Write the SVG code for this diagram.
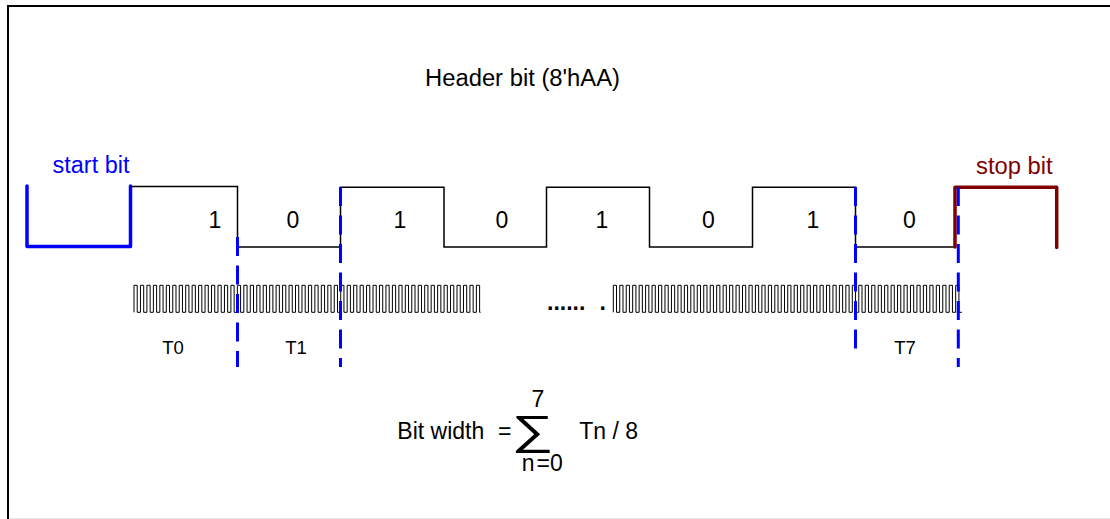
<svg xmlns="http://www.w3.org/2000/svg" width="1110" height="519" viewBox="0 0 1110 519">
<style>
text{font-family:"Liberation Sans",Arial,sans-serif;fill:#000}
.big{font-size:23px}
.mid{font-size:18.5px}
.wave{fill:none;stroke:#000;stroke-width:1.5}
.clk{fill:none;stroke:#000;stroke-width:1}
.dash{fill:none;stroke:#0000ff;stroke-width:3;stroke-dasharray:19 9.5}
</style>
<rect width="1110" height="519" fill="#fff"/>
<g id="frame">
<path d="M8,519 V6 H1110" fill="none" stroke="#000" stroke-width="2"/>
<line x1="9" y1="518.5" x2="1110" y2="518.5" stroke="#e8e8e8" stroke-width="1"/>
</g>
<g id="title"><text class="big" x="522.5" y="86" text-anchor="middle" textLength="195" lengthAdjust="spacingAndGlyphs">Header bit (8'hAA)</text></g>
<g id="start-bit">
<path d="M27,186 V246.5 H130.5 V186" fill="none" stroke="#0000ff" stroke-width="3.5" stroke-linecap="round" stroke-linejoin="round"/>
<text class="big" x="52.5" y="173" fill="#0000ff" style="fill:#0000ff" textLength="77" lengthAdjust="spacingAndGlyphs">start bit</text>
</g>
<g id="data-wave">
<path class="wave" d="M130.5,186.5 H237.5 V247 H340.5 V187.3 H444 V247 H546.5 V187.3 H649.5 V247 H752.5 V187.3 H855.5 V247 H955"/>
<text class="big" x="215" y="228" text-anchor="middle">1</text>
<text class="big" x="293" y="228" text-anchor="middle">0</text>
<text class="big" x="400" y="228" text-anchor="middle">1</text>
<text class="big" x="502" y="228" text-anchor="middle">0</text>
<text class="big" x="602" y="228" text-anchor="middle">1</text>
<text class="big" x="708.5" y="228" text-anchor="middle">0</text>
<text class="big" x="813" y="228" text-anchor="middle">1</text>
<text class="big" x="909.5" y="228" text-anchor="middle">0</text>
</g>
<g id="stop-bit">
<path d="M955,247 V187.3 H1056.7 V247.5" fill="none" stroke="#800000" stroke-width="3.5" stroke-linecap="round" stroke-linejoin="round"/>
<text class="big" x="976" y="174" style="fill:#800000" textLength="76.7" lengthAdjust="spacingAndGlyphs">stop bit</text>
</g>
<g id="clock">
<path class="clk" d="M134,312.3
v-27h3.23v27h3.23v-27h3.23v27h3.23v-27h3.23v27h3.23v-27h3.23v27h3.23v-27h3.23v27h3.23v-27h3.23v27h3.23
v-27h3.23v27h3.23v-27h3.23v27h3.23v-27h3.23v27h3.23v-27h3.23v27h3.23v-27h3.23v27h3.23v-27h3.23v27h3.23
v-27h3.23v27h3.23v-27h3.23v27h3.23v-27h3.23v27h3.23v-27h3.23v27h3.23v-27h3.23v27h3.23v-27h3.23v27h3.23
v-27h3.23v27h3.23v-27h3.23v27h3.23v-27h3.23v27h3.23v-27h3.23v27h3.23v-27h3.23v27h3.23v-27h3.23v27h3.23
v-27h3.23v27h3.23v-27h3.23v27h3.23v-27h3.23v27h3.23v-27h3.23v27h3.23v-27h3.23v27h3.23v-27h3.23v27h3.23
v-27h3.23v27h3.23v-27h3.23v27h3.23v-27h3.23v27h3.23v-27h3.23v27h3.23v-27h3.23v27h3.23v-27h3.23v27h3.23
v-27h3.23v27h3.23v-27h3.23v27h3.23v-27h3.23v27h3.23v-27h3.23v27h3.23v-27h3.23v27h3.23v-27h3.23v27h3.23
v-27h3.23v27h3.23v-27h3.23v27h3.23v-27h3.23v27h3.23v-27h3.23v27h3.23v-27h3.23v27h3.23v-27h3.23v27h3.23
v-27h3.23v27h3.23v-27h3.23v27h3.23v-27h3.23v27h3.23v-27h3.23v27h3.23v-27h3.23v27h3.23v-27h3.23v27h1"/>
<path class="clk" d="M613.3,312.3
v-27h3.23v27h3.23v-27h3.23v27h3.23v-27h3.23v27h3.23v-27h3.23v27h3.23v-27h3.23v27h3.23v-27h3.23v27h3.23
v-27h3.23v27h3.23v-27h3.23v27h3.23v-27h3.23v27h3.23v-27h3.23v27h3.23v-27h3.23v27h3.23v-27h3.23v27h3.23
v-27h3.23v27h3.23v-27h3.23v27h3.23v-27h3.23v27h3.23v-27h3.23v27h3.23v-27h3.23v27h3.23v-27h3.23v27h3.23
v-27h3.23v27h3.23v-27h3.23v27h3.23v-27h3.23v27h3.23v-27h3.23v27h3.23v-27h3.23v27h3.23v-27h3.23v27h3.23
v-27h3.23v27h3.23v-27h3.23v27h3.23v-27h3.23v27h3.23v-27h3.23v27h3.23v-27h3.23v27h3.23v-27h3.23v27h3.23
v-27h3.23v27h3.23v-27h3.23v27h3.23v-27h3.23v27h3.23v-27h3.23v27h3.23v-27h3.23v27h3.23v-27h3.23v27h3.23
v-27h3.23v27h3.23v-27h3.23v27h3.23v-27h3.23v27h3.23v-27h3.23v27h3.23v-27h3.23v27h3.23v-27h3.23v27h3.23
v-27h3.23v27h3.23v-27h3.23v27h3.23v-27h3.23v27h3.23v-27h3.23v27h3.23v-27h3.23v27h3.23v-27h3.23v27h3.23
v-27h3.23v27h3.23v-27h3.23v27h3.23v-27h3.23v27h3.23v-27h3.23v27h3.23v-27h3.23v27h3.23v-27h3.23v27h3"/>
<text class="big" x="547" y="310" style="font-weight:bold">......</text>
<text class="big" x="599.5" y="310" style="font-weight:bold">.</text>
</g>
<g id="dividers">
<line class="dash" x1="237.5" y1="237" x2="237.5" y2="367"/>
<line class="dash" x1="340.5" y1="187" x2="340.5" y2="367"/>
<line class="dash" x1="855.5" y1="187" x2="855.5" y2="358"/>
<line class="dash" x1="958.3" y1="187" x2="958.3" y2="367"/>
</g>
<g id="period-labels">
<text class="mid" x="173" y="354" text-anchor="middle">T0</text>
<text class="mid" x="296" y="354" text-anchor="middle">T1</text>
<text class="mid" x="905" y="354" text-anchor="middle">T7</text>
</g>
<g id="formula">
<text class="big" x="397.3" y="439.3">Bit width</text>
<text class="big" x="498" y="439.3">=</text>
<text x="511.5" y="444" style="font-size:41px" textLength="42" lengthAdjust="spacingAndGlyphs">∑</text>
<text class="big" x="531.5" y="406.7">7</text>
<text class="big" x="521.7" y="470.7">n</text>
<text class="big" x="536.5" y="470.7">=0</text>
<text class="big" x="579.3" y="439.3">Tn / 8</text>
</g>
</svg>
